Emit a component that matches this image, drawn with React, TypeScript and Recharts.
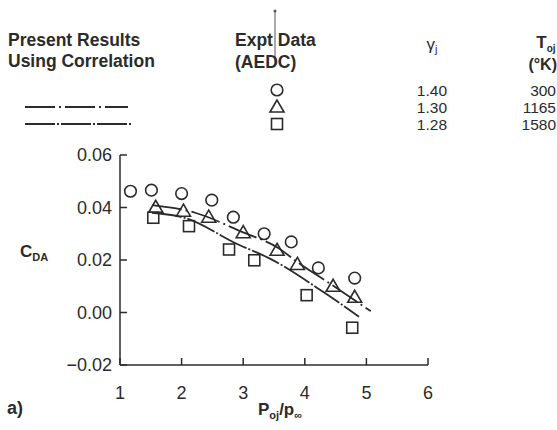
import { ComposedChart, XAxis, YAxis, Line, Scatter } from 'recharts';

// Expt data (AEDC)
const circleData = [
  { x: 1.17, y: 0.0462 },
  { x: 1.51, y: 0.0466 },
  { x: 2.0, y: 0.0453 },
  { x: 2.49, y: 0.0428 },
  { x: 2.84, y: 0.0363 },
  { x: 3.34, y: 0.030 },
  { x: 3.78, y: 0.0269 },
  { x: 4.22, y: 0.017 },
  { x: 4.81, y: 0.0131 },
];

const triangleData = [
  { x: 1.58, y: 0.0401 },
  { x: 2.03, y: 0.0386 },
  { x: 2.44, y: 0.0363 },
  { x: 3.0, y: 0.0304 },
  { x: 3.55, y: 0.0237 },
  { x: 3.88, y: 0.0183 },
  { x: 4.46, y: 0.010 },
  { x: 4.81, y: 0.0058 },
];

const squareData = [
  { x: 1.54, y: 0.0361 },
  { x: 2.12, y: 0.0329 },
  { x: 2.77, y: 0.024 },
  { x: 3.18, y: 0.0199 },
  { x: 4.03, y: 0.0066 },
  { x: 4.77, y: -0.0058 },
];

// Present results using correlation
const upperCurve = [
  { x: 1.52, y: 0.0409 },
  { x: 2.22, y: 0.038 },
  { x: 3.0, y: 0.0305 },
  { x: 3.57, y: 0.0246 },
  { x: 3.89, y: 0.019 },
  { x: 4.43, y: 0.0107 },
  { x: 5.07, y: 0.0005 },
];

const lowerCurve = [
  { x: 1.52, y: 0.038 },
  { x: 2.03, y: 0.0362 },
  { x: 2.92, y: 0.0259 },
  { x: 3.41, y: 0.0208 },
  { x: 4.32, y: 0.0075 },
  { x: 4.88, y: -0.0016 },
];

const xTicks = [1, 2, 3, 4, 5, 6];
const yTicks = [-0.02, 0, 0.02, 0.04, 0.06];

const legendRows = [
  { symbol: 'circle', gamma: '1.40', temp: '300' },
  { symbol: 'triangle', gamma: '1.30', temp: '1165' },
  { symbol: 'square', gamma: '1.28', temp: '1580' },
];

const INK = '#2b2b2b';
const FONT = '"Liberation Sans", Arial, Helvetica, sans-serif';
const DASH_1 = '30 4 2 4';
const DASH_2 = '30 2 2 2';
const ROW_Y = 90;
const ROW_STEP = 17;

function Marker({ kind, cx, cy }: { kind: string; cx: number; cy: number }) {
  const common = { fill: 'none', stroke: INK, strokeWidth: 1.6 };
  if (kind === 'circle') return <circle cx={cx} cy={cy} r={5.8} {...common} />;
  if (kind === 'triangle')
    return <polygon points={`${cx},${cy - 7} ${cx - 7},${cy + 5} ${cx + 7},${cy + 5}`} {...common} />;
  return <rect x={cx - 5.5} y={cy - 5.5} width={11} height={11} {...common} />;
}

const shapeFor = (kind: string) => (props: any) =>
  <Marker kind={kind} cx={props.cx} cy={props.cy} />;

const fmt = (v: number) => v.toFixed(2).replace('-', '\u2212');

export default function App() {
  return (
    <div style={{ position: 'absolute', left: 0, top: 0, width: 557, height: 430, background: '#fff', fontFamily: FONT }}>
      <ComposedChart width={557} height={430} margin={{ top: 155, right: 129, bottom: 25, left: 0 }}>
        <XAxis
          type="number"
          dataKey="x"
          domain={[1, 6]}
          ticks={xTicks}
          height={40}
          tickSize={-7}
          tickMargin={28}
          stroke={INK}
          strokeWidth={1.5}
          tick={{ fill: INK, fontSize: 18, fontFamily: FONT }}
        />
        <YAxis
          type="number"
          dataKey="y"
          domain={[-0.02, 0.06]}
          ticks={yTicks}
          width={120}
          tickSize={-7}
          tickMargin={15}
          tickFormatter={fmt}
          stroke={INK}
          strokeWidth={1.5}
          tick={{ fill: INK, fontSize: 18, fontFamily: FONT }}
        />
        <Line data={upperCurve} dataKey="y" type="monotone" dot={false} stroke={INK} strokeWidth={1.8} strokeDasharray={DASH_1} isAnimationActive={false} />
        <Line data={lowerCurve} dataKey="y" type="monotone" dot={false} stroke={INK} strokeWidth={1.8} strokeDasharray={DASH_2} isAnimationActive={false} />
        <Scatter data={circleData} dataKey="y" shape={shapeFor('circle')} isAnimationActive={false} />
        <Scatter data={triangleData} dataKey="y" shape={shapeFor('triangle')} isAnimationActive={false} />
        <Scatter data={squareData} dataKey="y" shape={shapeFor('square')} isAnimationActive={false} />
      </ComposedChart>

      <svg width={557} height={430} style={{ position: 'absolute', left: 0, top: 0, pointerEvents: 'none' }}>
        <g fill={INK} fontFamily={FONT}>
          <text x={8} y={46} fontSize={17.5} fontWeight="bold">Present Results</text>
          <text x={8} y={67} fontSize={17.5} fontWeight="bold">Using Correlation</text>
          <line x1={25} x2={128} y1={ROW_Y + ROW_STEP} y2={ROW_Y + ROW_STEP} stroke={INK} strokeWidth={1.8} strokeDasharray={DASH_1} />
          <line x1={25} x2={133} y1={ROW_Y + 2 * ROW_STEP} y2={ROW_Y + 2 * ROW_STEP} stroke={INK} strokeWidth={1.8} strokeDasharray={DASH_2} />

          <line x1={275} x2={275} y1={10} y2={66} stroke="#555" strokeWidth={1} />
          <circle cx={275} cy={11} r={1.5} fill="#555" />
          <text x={235} y={46} fontSize={17.5} fontWeight="bold">Expt Data</text>
          <text x={235} y={68} fontSize={17.5} fontWeight="bold">(AEDC)</text>

          <text x={432} y={50} fontSize={17} textAnchor="middle">
            γ<tspan fontSize={11} dy={3}>j</tspan>
          </text>
          <text x={546} y={48} fontSize={17} fontWeight="bold" textAnchor="middle">
            T<tspan fontSize={10} dy={4}>oj</tspan>
          </text>
          <text x={557} y={70} fontSize={16} fontWeight="bold" textAnchor="end">(°K)</text>

          {legendRows.map((r, i) => (
            <g key={r.gamma}>
              <Marker kind={r.symbol} cx={277} cy={ROW_Y + i * ROW_STEP} />
              <text x={447} y={ROW_Y + 6 + i * ROW_STEP} fontSize={15.5} textAnchor="end">{r.gamma}</text>
              <text x={556} y={ROW_Y + 6 + i * ROW_STEP} fontSize={15.5} textAnchor="end">{r.temp}</text>
            </g>
          ))}

          <text x={20} y={257} fontSize={17} fontWeight="bold">
            C<tspan fontSize={11} dy={4}>DA</tspan>
          </text>
          <text x={258} y={415} fontSize={17} fontWeight="bold">
            P<tspan fontSize={11} dy={4}>oj</tspan>
            <tspan dy={-4}>/p</tspan>
            <tspan fontSize={11} dy={4}>∞</tspan>
          </text>
          <text x={7} y={414} fontSize={18} fontWeight="bold">a)</text>
        </g>
      </svg>
    </div>
  );
}
